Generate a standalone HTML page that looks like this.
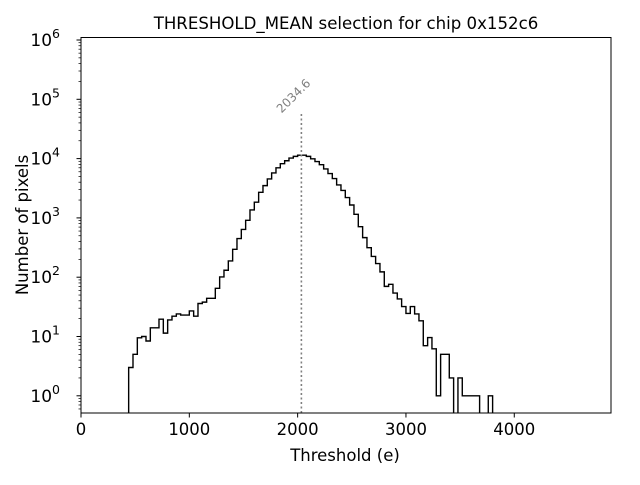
<!DOCTYPE html>
<html><head><meta charset="utf-8"><style>
body{margin:0;background:#fff}
svg text{font-family:"DejaVu Sans","Liberation Sans",sans-serif}
</style></head><body>
<svg id="chart" width="640" height="480" viewBox="0 0 640 480">
<rect width="640" height="480" fill="#fff"/>
<defs><clipPath id="clip"><rect x="81" y="37.5" width="530" height="375.5"/></clipPath></defs>
<g id="plot" clip-path="url(#clip)"></g>
<g id="axes"></g>
<text x="346" y="29" font-size="16.6" text-anchor="middle">THRESHOLD_MEAN selection for chip 0x152c6</text>
<text x="345" y="461" font-size="16.5" text-anchor="middle">Threshold (e)</text>
<text transform="translate(28,225) rotate(-90)" font-size="16.5" text-anchor="middle">Number of pixels</text>
</svg>
<script>
const binStart = 440;
const binWidth = 40;
const counts = [3,5,9.5,10,8.4,14,14,19.6,11.4,19,22,24,23,23,27,22,36,38,44,44,
65,101,131,188,295,448,640,910,1360,1840,2700,3500,4540,5740,7000,8200,9200,10200,10900,11400,
11400,10900,9900,8900,7900,6700,5600,4600,3600,2900,2200,1650,1150,710,465,315,224,170,123,70,
76,54,43,32,24.5,32,24,18.4,7,9.6,6.2,1,5,5,2,0,2,1,1,1,1,0,0,1];
const meanValue = 2034.6;
const meanLineTop = 57000;
const xTicks = [0,1000,2000,3000,4000];
const yDecades = [0,1,2,3,4,5,6];

const NS="http://www.w3.org/2000/svg";
const X0=81,X1=611,Y0=413,Y1=37.5;
const xMin=0,xMax=4893;
function xs(v){return X0+(v-xMin)/(xMax-xMin)*(X1-X0);}
function ys(v){if(v<=0)return Y0+50;return 40+(6-Math.log10(v))*59.3;}
function mk(tag,attrs,parent){const e=document.createElementNS(NS,tag);for(const k in attrs)e.setAttribute(k,attrs[k]);parent.appendChild(e);return e;}
const plot=document.getElementById('plot'),axes=document.getElementById('axes');

let d=`M${xs(binStart)},${Y0+50}`;
counts.forEach((c,i)=>{const a=xs(binStart+i*binWidth),b=xs(binStart+(i+1)*binWidth);d+=` L${a},${ys(c)} L${b},${ys(c)}`;});
d+=` L${xs(binStart+counts.length*binWidth)},${Y0+50}`;
const hist=mk('path',{d:d,fill:'none',stroke:'#000','stroke-width':1.4},plot);



const ml=mk('line',{x1:xs(meanValue),x2:xs(meanValue),y1:Y0,y2:ys(meanLineTop),stroke:'#808080','stroke-width':1.6,'stroke-dasharray':'2,2.5'},axes);


const mt=mk('text',{transform:`translate(${xs(meanValue)-5},${ys(meanLineTop)-15}) rotate(-45)`,'font-size':12,fill:'#808080','text-anchor':'middle'},axes);
mt.textContent=String(meanValue);



const fr=mk('rect',{x:X0,y:Y1,width:X1-X0,height:Y0-Y1,fill:'none',stroke:'#000','stroke-width':1},axes);



xTicks.forEach(t=>{const x=xs(t);
 mk('line',{x1:x,x2:x,y1:Y0,y2:Y0+4.5,stroke:'#000','stroke-width':1},axes);
 const tx=mk('text',{x:x,y:Y0+22,'font-size':16.5,'text-anchor':'middle'},axes);tx.textContent=t;
 
 
});
yDecades.forEach(p=>{const y=ys(Math.pow(10,p));
 mk('line',{x1:X0-4.5,x2:X0,y1:y,y2:y,stroke:'#000','stroke-width':1},axes);
 const tx=mk('text',{x:X0-21,y:y+6,'font-size':17,'text-anchor':'end'},axes);
 
 
 tx.textContent='10';
 const sup=mk('tspan',{dy:-8,'font-size':12.5},tx);sup.textContent=p;
 for(let k=2;k<10;k++){const v=k*Math.pow(10,p-1);const yy=ys(v);
   if(yy>Y0||yy<Y1)continue; mk('line',{x1:X0-2.5,x2:X0,y1:yy,y2:yy,stroke:'#000','stroke-width':0.7},axes);}
});
</script>
</body></html>
